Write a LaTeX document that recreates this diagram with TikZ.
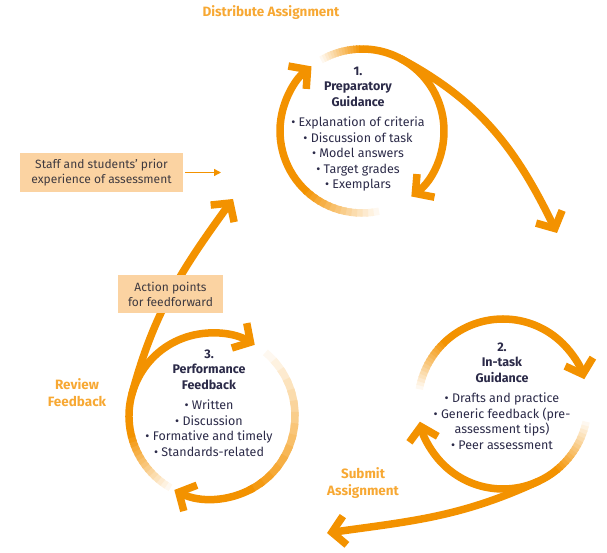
\documentclass[tikz,border=0pt]{standalone}
\usepackage{fontspec}
\setmainfont{Fira Sans}
\usetikzlibrary{arrows.meta, calc, positioning}

\definecolor{ringorange}{HTML}{F39200}
\definecolor{labelorange}{HTML}{F7A833}
\definecolor{boxfill}{HTML}{FBD3A2}
\definecolor{bodytext}{HTML}{2B2A48}
\definecolor{boxtext}{HTML}{3F3A40}

% fading start of a ring: centre, radius, light angle, solid angle
\newcommand\fadearc[4]{%
  \foreach \k in {0,...,13}{%
    \pgfmathsetmacro\aa{#3+(#4-#3)*\k/14}%
    \pgfmathsetmacro\bb{#3+(#4-#3)*(\k+1.4)/14}%
    \pgfmathtruncatemacro\pp{6+94*\k/14}%
    \draw[ring, draw=ringorange!\pp] ($(#1)+(\aa:#2)$) arc[start angle=\aa, end angle=\bb, radius=#2];
  }}

\begin{document}
\begin{tikzpicture}[x=1pt,y=1pt]
  \tikzstyle{ring} = [line width=7.5pt]
  \tikzstyle{cycle} = [ring, draw=ringorange, -{Straight Barb[sharp,length=13pt,width=29pt]}]
  \tikzstyle{stage} = [align=center, text=bodytext, font=\fontsize{12.5}{15.5}\selectfont]
  \tikzstyle{phase} = [align=center, text=labelorange, font=\fontsize{13.5}{17}\selectfont\bfseries]
  \tikzstyle{note} = [fill=boxfill, align=center, text=boxtext, inner sep=0pt, font=\fontsize{12}{15}\selectfont]
  \useasboundingbox (0,0) rectangle (607,553);

  \coordinate (prep) at (362,422);
  \coordinate (task) at (503,149);
  \coordinate (feed) at (212,137);

  % 1. preparatory guidance
  \fadearc{prep}{82}{282}{228}
  \draw[cycle] ($(prep)+(228:82)$) arc[start angle=228, end angle=128, radius=82];
  \fadearc{prep}{82}{120}{92}
  \draw[cycle] ($(prep)+(92:82)$) arc[start angle=92, end angle=-53, radius=82];
  \node[stage] (prepText) at (358,424) {\textbf{1.}\\\textbf{Preparatory}\\\textbf{Guidance}\\[5pt]
    • Explanation of criteria\\• Discussion of task\\• Model answers\\• Target grades\\• Exemplars};

  % 2. in-task guidance
  \fadearc{task}{85}{170}{135}
  \draw[cycle] ($(task)+(135:85)$) arc[start angle=135, end angle=17, radius=85];
  \fadearc{task}{85}{-12}{-50}
  \draw[cycle] ($(task)+(-50:85)$) arc[start angle=-50, end angle=-168, radius=85];
  \node[stage] (taskText) at (502,157) {\textbf{2.}\\\textbf{In-task}\\\textbf{Guidance}\\[5pt]
    • Drafts and practice\\• Generic feedback (pre-\\assessment tips)\\• Peer assessment};

  % 3. performance feedback
  \fadearc{feed}{83}{240}{195}
  \draw[cycle] ($(feed)+(195:83)$) arc[start angle=195, end angle=59, radius=83];
  \fadearc{feed}{83}{50}{-60}
  \draw[cycle] ($(feed)+(-60:83)$) arc[start angle=-60, end angle=-117, radius=83];
  \node[stage] (feedText) at (209,150) {\textbf{3.}\\\textbf{Performance}\\\textbf{Feedback}\\[5pt]
    • Written\\• Discussion\\• Formative and timely\\• Standards-related};

  % links between the stages
  \coordinate (prepOut) at ($(prep)+(62:82)$);
  \coordinate (taskIn) at (557,320);
  \coordinate (taskOut) at ($(task)+(-65:85)$);
  \coordinate (feedIn) at (327,20);
  \coordinate (feedOut) at ($(feed)+(165:83)$);
  \coordinate (prepIn) at (233,354);
  \draw[cycle] (prepOut) to[out=-28, in=116] (taskIn);
  \draw[cycle] (taskOut) to[out=-155, in=8] (feedIn);
  \draw[cycle] (feedOut) to[out=75, in=-126] (prepIn);

  \node[phase] (distribute) at (271,540) {Distribute Assignment};
  \node[phase] (submit) at (363,70) {Submit\\Assignment};
  \node[phase] (review) at (77,160) {Review\\Feedback};

  \node[note, minimum width=163pt, minimum height=39pt] (prior) at (101.5,380.5)
    {Staff and students’ prior\\experience of assessment};
  \coordinate (priorEnd) at (221,380.5);
  \draw[ringorange, line width=1.3pt, -{Triangle[length=7pt,width=7pt]}] (prior.east) ++(2,0) -- (priorEnd);
  \node[note, minimum width=105pt, minimum height=38pt] (action) at (170.5,259)
    {Action points\\for feedforward};
\end{tikzpicture}
\end{document}
